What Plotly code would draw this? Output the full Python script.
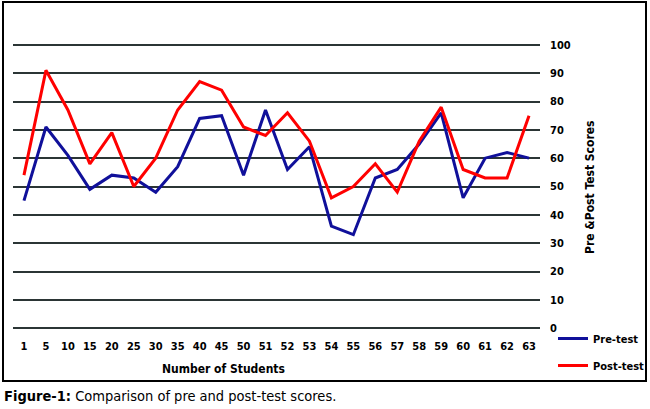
import plotly.graph_objects as go

# students (category axis) and scores
students = ['1', '5', '10', '15', '20', '25', '30', '35', '40', '45', '50', '51',
            '52', '53', '54', '55', '56', '57', '58', '59', '60', '61', '62', '63']
pre_test = [45, 71, 61, 49, 54, 53, 48, 57, 74, 75, 54, 77,
            56, 64, 36, 33, 53, 56, 65, 76, 46, 60, 62, 60]
post_test = [54, 91, 77, 58, 69, 50, 60, 77, 87, 84, 71, 68,
             76, 66, 46, 50, 58, 48, 66, 78, 56, 53, 53, 75]
y_ticks = [0, 10, 20, 30, 40, 50, 60, 70, 80, 90, 100]

W, H = 650, 409
L, R, T, B = 13, 110, 42, 78
pw, ph = W - L - R, H - T - B

def px_x(x):
    return (x - L) / pw

def px_y(y):
    return (H - B - y) / ph

FONT = "Liberation Sans Narrow, DejaVu Sans Condensed, Arial Narrow, sans-serif"

fig = go.Figure()
fig.add_trace(go.Scatter(x=students, y=pre_test, mode='lines', name='<b>Pre-test</b>',
                         line=dict(color='#10109a', width=3), legendgroup='pre'))
fig.add_trace(go.Scatter(x=students, y=post_test, mode='lines', name='<b>Post-test</b>',
                         line=dict(color='#ff0000', width=3), legendgroup='post'))

fig.update_xaxes(type='category', range=[-0.5, len(students) - 0.5],
                 showgrid=False, zeroline=False, showline=False,
                 ticks='', ticklabelstandoff=7,
                 tickfont=dict(family=FONT, size=11, color='black', weight='bold'))
fig.update_yaxes(range=[-1, 101], tickvals=y_ticks, side='right', showline=False,
                 zeroline=False, showgrid=True, gridcolor='#2b3535', gridwidth=1.5,
                 ticks='', ticklabelstandoff=9,
                 tickfont=dict(family=FONT, size=11, color='black', weight='bold'))

# outer frame
fig.add_shape(type='rect', xref='paper', yref='paper',
              x0=px_x(3), x1=px_x(646), y0=px_y(381), y1=px_y(2),
              line=dict(color='black', width=2), layer='below')

fig.add_annotation(text='<b>Number of Students</b>', xref='paper', yref='paper',
                   x=px_x(223), y=px_y(369), xanchor='center', yanchor='middle',
                   showarrow=False, font=dict(family=FONT, size=12, color='black'))
fig.add_annotation(text='<b>Pre &Post Test Scores</b>', xref='paper', yref='paper',
                   x=px_x(590), y=px_y(187), xanchor='center', yanchor='middle',
                   showarrow=False, textangle=-90,
                   font=dict(family=FONT, size=12, color='black'))
fig.add_annotation(text='<b>Figure-1:</b> Comparison of pre and post-test scores.',
                   xref='paper', yref='paper', x=px_x(2), y=px_y(396),
                   xanchor='left', yanchor='middle', showarrow=False,
                   font=dict(family=FONT, size=14.5, color='black'))

fig.update_layout(
    width=W, height=H, margin=dict(l=L, r=R, t=T, b=B, autoexpand=False),
    paper_bgcolor='white', plot_bgcolor='white',
    showlegend=True,
    legend=dict(x=px_x(553), y=px_y(324), xanchor='left', yanchor='top',
                bgcolor='rgba(0,0,0,0)', tracegroupgap=8, itemwidth=30,
                font=dict(family=FONT, size=11, color='black')),
)

fig.write_html("out.html", config={'displayModeBar': False},
               post_script="document.body.style.margin='0';")
